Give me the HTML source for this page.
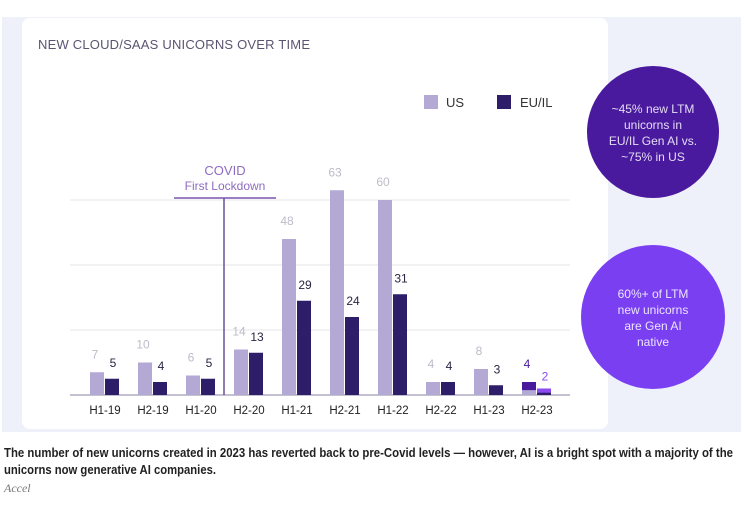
<!DOCTYPE html>
<html><head><meta charset="utf-8"><style>
body{margin:0;background:#fff;width:741px;height:510px;overflow:hidden}
svg{display:block;font-family:"Liberation Sans",sans-serif}
</style></head><body>
<svg id="chart" width="741" height="510" viewBox="0 0 741 510">
<rect x="2" y="17" width="739" height="415" fill="#eef1f9"/>
<rect x="22" y="18" width="586" height="411" rx="8" fill="#fff"/>
<text x="38" y="49" font-size="13" fill="#5b5470" textLength="272">NEW CLOUD/SAAS UNICORNS OVER TIME</text>
<rect x="424" y="95" width="14" height="14" fill="#b3a9d4"/>
<text x="446" y="107" font-size="13" fill="#333">US</text>
<rect x="497" y="95" width="14" height="14" fill="#2e1d69"/>
<text x="520" y="107" font-size="13" fill="#333">EU/IL</text>
<g id="grid"></g>
<g id="bars"></g>
<line x1="224" y1="198" x2="224" y2="395" stroke="#6b5196" stroke-width="1.5"/>
<line x1="174" y1="198" x2="276" y2="198" stroke="#7a55b0" stroke-width="1.5"/>
<text x="225" y="175" font-size="13" fill="#8e6cc0" text-anchor="middle">COVID</text>
<text x="225" y="190" font-size="12" fill="#8e6cc0" text-anchor="middle">First Lockdown</text>
<circle cx="653" cy="132" r="66" fill="#4a1a9e"/>
<g font-size="12" fill="#e4dcf5" text-anchor="middle">
<text x="653" y="113">~45% new LTM</text><text x="653" y="129">unicorns in</text><text x="653" y="145">EU/IL Gen AI vs.</text><text x="653" y="161">~75% in US</text></g>
<circle cx="653" cy="317" r="72" fill="#7b3ff2"/>
<g font-size="12" fill="#ece4ff" text-anchor="middle">
<text x="653" y="298">60%+ of LTM</text><text x="653" y="314">new unicorns</text><text x="653" y="330">are Gen AI</text><text x="653" y="346">native</text></g>
<text x="4" y="457" font-size="12.5" font-weight="bold" fill="#222" textLength="729" lengthAdjust="spacingAndGlyphs">The number of new unicorns created in 2023 has reverted back to pre-Covid levels — however, AI is a bright spot with a majority of the</text>
<text x="4" y="474" font-size="12.5" font-weight="bold" fill="#222" textLength="212" lengthAdjust="spacingAndGlyphs">unicorns now generative AI companies.</text>
<text x="4" y="492" font-size="12" font-style="italic" fill="#777" font-family="Liberation Serif,serif">Accel</text>
</svg>
<script>
const categories=["H1-19","H2-19","H1-20","H2-20","H1-21","H2-21","H1-22","H2-22","H1-23","H2-23"];
const usValues=[7,10,6,14,48,63,60,4,8,4];
const euValues=[5,4,5,13,29,24,31,4,3,2];
const usGenAI=[0,0,0,0,0,0,0,0,0,2.5];
const euGenAI=[0,0,0,0,0,0,0,0,0,1.3];
const gridTicks=[20,40,60];
const NS="http://www.w3.org/2000/svg";
const base=395, ppu=3.25, x0=105, step=48;
const y=v=>base-v*ppu;
const xc=i=>x0+i*step;
function mk(tag,attrs,parent){const e=document.createElementNS(NS,tag);for(const k in attrs)e.setAttribute(k,attrs[k]);parent.appendChild(e);return e;}
const grid=document.getElementById('grid'), bars=document.getElementById('bars');
gridTicks.forEach(t=>{const l=mk('line',{x1:70,x2:570,y1:y(t),y2:y(t),stroke:'#e6e6ea','stroke-width':1},grid);

});
const ax=mk('line',{x1:70,x2:570,y1:base,y2:base,stroke:'#8a86a0','stroke-width':1},grid);


categories.forEach((c,i)=>{
  const cx=xc(i);
  const u=usValues[i], e=euValues[i], ug=usGenAI[i], eg=euGenAI[i];
  const ub=mk('rect',{x:cx-15,y:y(u),width:14,height:u*ppu,fill:'#b3a9d4'},bars);
  
  
  if(ug>0){const g=mk('rect',{x:cx-15,y:y(u),width:14,height:ug*ppu,fill:'#4a1a9e'},bars);
    
    }
  const eb=mk('rect',{x:cx,y:y(e),width:14,height:e*ppu,fill:'#2e1d69'},bars);
  
  
  if(eg>0){const g=mk('rect',{x:cx,y:y(e),width:14,height:eg*ppu,fill:'#8a4af0'},bars);
    
    }
  const last=i===categories.length-1;
  const ul=mk('text',{x:cx-10,y:y(u)-14,'font-size':12,fill:last?'#4a1a9e':'#bdbbc8','text-anchor':'middle'},bars);
  ul.textContent=u;
  
  
  const el=mk('text',{x:cx+8,y:y(e)-(last?8:12),'font-size':12,fill:last?'#8a4af0':'#2a2440','text-anchor':'middle'},bars);
  el.textContent=e;
  
  
  const xl=mk('text',{x:cx,y:414,'font-size':11.5,fill:'#222','text-anchor':'middle'},bars);
  xl.textContent=c;
  
  
});
</script>
</body></html>
